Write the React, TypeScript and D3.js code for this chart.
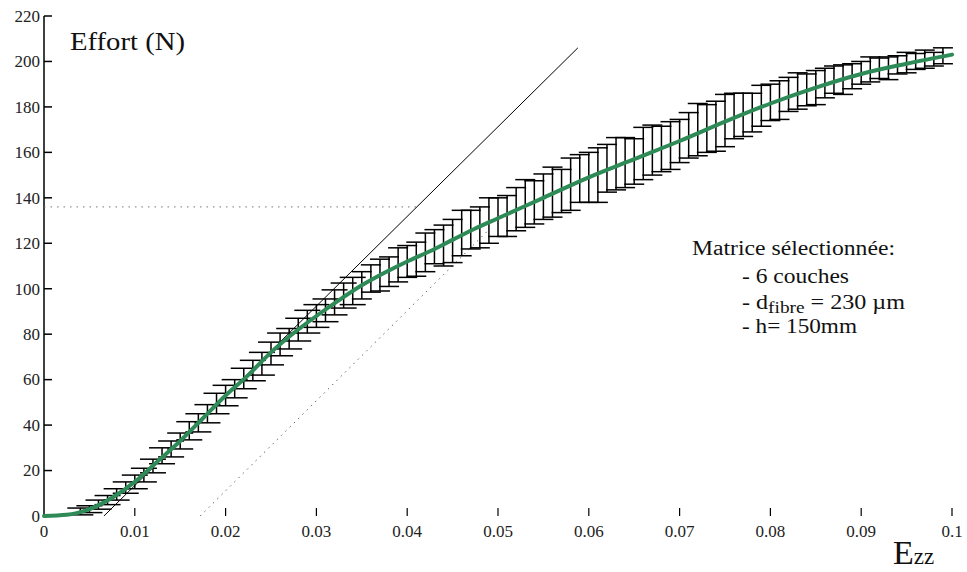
import React from "react";
import * as d3 from "d3";

// Curve: strain Ezz vs force (N)
const curveStrain = [0, 0.0025, 0.005, 0.0075, 0.01, 0.0125, 0.015, 0.0175, 0.02, 0.0225, 0.025, 0.0275, 0.03, 0.0325, 0.035, 0.0375, 0.04, 0.0425, 0.045, 0.0475, 0.05, 0.055, 0.06, 0.065, 0.07, 0.075, 0.08, 0.085, 0.09, 0.095, 0.1];
const curveForce = [0, 0.5, 3, 8, 15, 24, 33, 43, 53, 62, 72, 80.5, 88, 95, 101.5, 107, 112, 116.5, 121.5, 126.5, 131, 140, 149, 157, 165, 173.5, 181.5, 188.5, 194.5, 199, 203];

// Error bars: strain, mean force, half-range
const errStrain = [0.004, 0.005, 0.006, 0.007, 0.008, 0.009, 0.010, 0.011, 0.012, 0.013, 0.014, 0.015, 0.016, 0.017, 0.018, 0.019, 0.020, 0.021, 0.022, 0.023, 0.024, 0.025, 0.026, 0.027, 0.028, 0.029, 0.030, 0.031, 0.032, 0.033, 0.034, 0.035, 0.036, 0.037, 0.038, 0.039, 0.040, 0.041, 0.042, 0.043, 0.044, 0.045, 0.046, 0.047, 0.048, 0.049, 0.050, 0.051, 0.052, 0.053, 0.054, 0.055, 0.056, 0.057, 0.058, 0.059, 0.060, 0.061, 0.062, 0.063, 0.064, 0.065, 0.066, 0.067, 0.068, 0.069, 0.070, 0.071, 0.072, 0.073, 0.074, 0.075, 0.076, 0.077, 0.078, 0.079, 0.080, 0.081, 0.082, 0.083, 0.084, 0.085, 0.086, 0.087, 0.088, 0.089, 0.090, 0.091, 0.092, 0.093, 0.094, 0.095, 0.096, 0.097, 0.098, 0.099];
const errMean = [2, 3, 5, 7, 9.5, 12.5, 15, 18, 22, 26.5, 29.5, 33, 37.5, 41, 45, 49.5, 53, 56, 60.5, 64, 67, 71.5, 75.5, 78, 82, 85.5, 88, 90.5, 94, 97, 99, 101.5, 104.5, 106, 107.5, 110.5, 112, 113, 116, 118.5, 119, 121, 124.5, 126, 127, 130, 131.5, 132, 135, 137.5, 138, 140.5, 142.5, 143, 146, 148.5, 149, 150, 153, 155, 155.5, 156, 159.5, 161, 161.5, 163, 165, 167.5, 170, 170.5, 171.5, 174, 176, 176.5, 177.5, 180.5, 182, 183, 185.5, 187, 187.5, 188.5, 190.5, 192, 192, 193.5, 195, 196.5, 197, 197, 198.5, 199.5, 200, 201, 201, 202.5];
const errHalf = [1.5, 1.5, 2, 2, 2.5, 2.5, 3, 3, 3, 3.5, 3.5, 3.5, 4, 4, 4, 4.5, 4.5, 4, 4.5, 4.5, 5, 5, 5, 4.5, 5, 5, 5, 5, 5.5, 5.5, 6, 6, 6, 7, 6.5, 7.5, 7, 7.5, 8.5, 7.5, 9, 9.5, 10, 8.5, 9, 10, 8.5, 9, 9.5, 10.5, 9.5, 10, 11, 9.5, 11.5, 10.5, 11, 12, 10.5, 11.5, 11, 10, 11.5, 11, 10, 10.5, 9.5, 10, 11.5, 10.5, 11, 11.5, 10, 9.5, 8.5, 9, 8, 8.5, 7.5, 8, 7, 7.5, 6.5, 6, 6.5, 5.5, 5, 5.5, 4.5, 5, 4, 4.5, 3.5, 4, 3, 3.5];

// Reference lines
const tangentStrain = [0.0066, 0.0588];
const tangentForce = [0, 206];
const offsetStrain = [0.0172, 0.049];
const offsetForce = [0, 126];
const levelStrain = [0, 0.041];
const levelForce = [136, 136];

const xTicks = [0, 0.01, 0.02, 0.03, 0.04, 0.05, 0.06, 0.07, 0.08, 0.09, 0.1];
const xTickLabels = ["0", "0.01", "0.02", "0.03", "0.04", "0.05", "0.06", "0.07", "0.08", "0.09", "0.1"];
const yTicks = [0, 20, 40, 60, 80, 100, 120, 140, 160, 180, 200, 220];

const W = 967;
const H = 572;
const FONT = "Liberation Serif, Times New Roman, serif";
const GREEN = "#2e8b57";

export default function App() {
  const x = d3.scaleLinear().domain([0, 0.1]).range([44, 952]);
  const y = d3.scaleLinear().domain([0, 220]).range([516, 16]);

  const curvePts: [number, number][] = curveStrain.map((s, i) => [s, curveForce[i]]);
  const linePath = d3
    .line<[number, number]>()
    .x((d) => x(d[0]))
    .y((d) => y(d[1]))
    .curve(d3.curveMonotoneX)(curvePts) as string;

  const seg = (xs: number[], ys: number[]) =>
    d3
      .line<number>()
      .x((_, i) => x(xs[i]))
      .y((_, i) => y(ys[i]))(xs.map((_, i) => i)) as string;

  const tf = { fontFamily: FONT };

  return (
    <svg
      width={W}
      height={H}
      style={{ position: "absolute", left: 0, top: 0, background: "#fff", fontFamily: FONT }}
    >
      <rect x={0} y={0} width={W} height={H} fill="#fff" />

      {/* Y axis */}
      <line x1={x(0)} x2={x(0)} y1={y(220)} y2={y(0)} stroke="#000" strokeWidth={1.5} />
      {yTicks.map((t) => (
        <g key={"yt" + t}>
          <line x1={x(0)} x2={x(0) + 8} y1={y(t)} y2={y(t)} stroke="#000" strokeWidth={1.5} />
          <text x={40} y={y(t)} dy="0.34em" textAnchor="end" fontSize={17} fill="#222" style={tf}>
            {t}
          </text>
        </g>
      ))}

      {/* X ticks */}
      {xTicks.map((t, i) => (
        <g key={"xt" + t}>
          {i > 0 && (
            <line x1={x(t)} x2={x(t)} y1={y(0)} y2={y(0) - 8} stroke="#000" strokeWidth={1.2} />
          )}
          <text x={x(t)} y={537} textAnchor="middle" fontSize={17} fill="#222" style={tf}>
            {xTickLabels[i]}
          </text>
        </g>
      ))}

      {/* Reference lines */}
      <path d={seg(levelStrain, levelForce)} fill="none" stroke="#777" strokeWidth={1} strokeDasharray="1.5,5" />
      <path d={seg(offsetStrain, offsetForce)} fill="none" stroke="#666" strokeWidth={1} strokeDasharray="1.5,4.5" />
      <path d={seg(tangentStrain, tangentForce)} fill="none" stroke="#000" strokeWidth={1} />

      {/* Error bars */}
      {errStrain.map((s, i) => {
        const cx = x(s);
        const top = y(errMean[i] + errHalf[i]);
        const bot = y(errMean[i] - errHalf[i]);
        const cap = s < 0.035 ? 13 : 10;
        return (
          <g key={"eb" + i} stroke="#000" strokeWidth={1.5}>
            <line x1={cx} x2={cx} y1={top} y2={bot} />
            <line x1={cx - cap} x2={cx + cap} y1={top} y2={top} />
            <line x1={cx - cap} x2={cx + cap} y1={bot} y2={bot} />
          </g>
        );
      })}

      {/* Mean curve */}
      <path d={linePath} fill="none" stroke={GREEN} strokeWidth={4} strokeLinecap="round" />

      {/* Labels */}
      <text x={70} y={50} fontSize={25} fill="#111" textLength={115} lengthAdjust="spacingAndGlyphs" style={tf}>
        Effort (N)
      </text>
      <text x={893} y={564} fill="#111" style={tf}>
        <tspan fontSize={34}>E</tspan>
        <tspan fontSize={23}>zz</tspan>
      </text>

      <g fill="#111" fontSize={20}>
        <text x={692} y={255} textLength={203} lengthAdjust="spacingAndGlyphs" style={tf}>
          Matrice sélectionnée:
        </text>
        <text x={742} y={283} textLength={107} lengthAdjust="spacingAndGlyphs" style={tf}>
          - 6 couches
        </text>
        <text x={742} y={309} style={tf} textLength={163} lengthAdjust="spacingAndGlyphs">
          <tspan>- d</tspan>
          <tspan fontSize={16} dy={4}>fibre</tspan>
          <tspan dy={-4}> = 230 µm</tspan>
        </text>
        <text x={742} y={333} textLength={115} lengthAdjust="spacingAndGlyphs" style={tf}>
          - h= 150mm
        </text>
      </g>
    </svg>
  );
}
